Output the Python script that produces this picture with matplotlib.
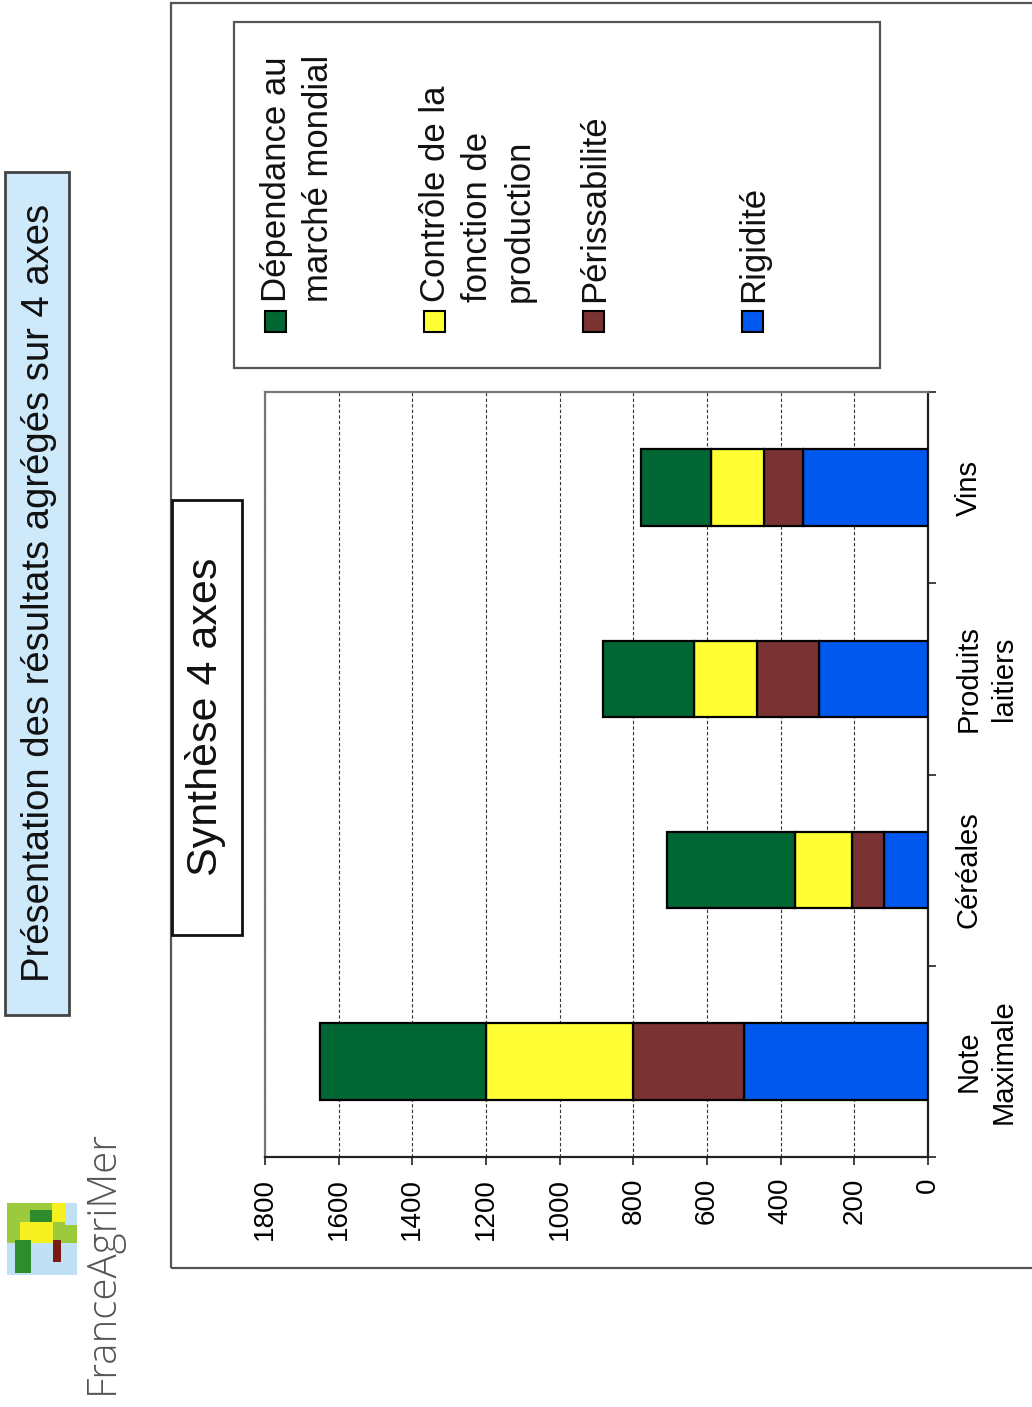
import matplotlib
matplotlib.use("Agg")
import matplotlib.pyplot as plt
from matplotlib.patches import Rectangle
from matplotlib.ticker import FixedLocator
import numpy as np

# ---------------- data ----------------
categories = ["Note\nMaximale", "Céréales", "Produits\nlaitiers", "Vins"]
series_names = ["Dépendance au\nmarché mondial", "Contrôle de la\nfonction de\nproduction",
                "Périssabilité", "Rigidité"]
rigidite = [500, 120, 296, 340]
perissabilite = [300, 85, 168, 105]
controle = [400, 156, 170, 144]
dependance = [450, 348, 248, 189]
value_ticks = [0, 200, 400, 600, 800, 1000, 1200, 1400, 1600, 1800]
title_text = "Présentation des résultats agrégés sur 4 axes"
chart_title = "Synthèse 4 axes"
brand = "FranceAgriMer"

colors = {"dep": "#006633", "ctrl": "#FFFF33", "per": "#7A3232", "rig": "#0058EE"}

W, H = 1032, 1407
fig = plt.figure(figsize=(W / 100, H / 100), dpi=100)
fig.patch.set_facecolor("white")

NARROW = ["Liberation Sans Narrow", "Liberation Sans", "DejaVu Sans"]
REG = ["Liberation Sans", "DejaVu Sans"]


def fx(x):
    return x / W


def fy(y):
    return 1 - y / H


def frect(x0, y0, x1, y1, **kw):
    r = Rectangle((fx(x0), fy(y1)), (x1 - x0) / W, (y1 - y0) / H,
                  transform=fig.transFigure, **kw)
    fig.patches.append(r)
    return r


# outer frame
frect(171, 3, 1045, 1268, fill=False, edgecolor="#555555", lw=1.6)

# title box
frect(5, 172, 69, 1015, facecolor="#CDE9FA", edgecolor="#444444", lw=2)
fig.text(fx(39), fy(593), title_text, rotation=90, ha="center", va="center",
         fontsize=27.5, family=NARROW, color="#111111")

# ---------------- axes ----------------
ax = fig.add_axes([fx(265), fy(1157), (928 - 265) / W, (1157 - 392) / H])
ypos = np.arange(len(categories))
bar_h = 0.4
left = np.zeros(len(categories))
for vals, key in [(rigidite, "rig"), (perissabilite, "per"), (controle, "ctrl"), (dependance, "dep")]:
    ax.barh(ypos, vals, height=bar_h, left=left, color=colors[key],
            edgecolor="black", linewidth=1.6, zorder=3)
    left = left + np.array(vals)

ax.set_xlim(1800, 0)
ax.set_ylim(-0.5, len(categories) - 0.5)
ax.set_xticks(value_ticks)
ax.set_xticklabels([str(v) for v in value_ticks], rotation=90, ha="center", va="top",
                   fontsize=20, family=REG)
ax.tick_params(axis="x", direction="out", length=6, width=1.2, pad=9, color="#222222")
ax.xaxis.grid(True, linestyle=(0, (3, 2)), color="#333333", linewidth=0.8, zorder=0)
ax.set_axisbelow(True)

ax.yaxis.tick_right()
ax.set_yticks(ypos)
ax.set_yticklabels(categories, rotation=90, ha="left", va="center", fontsize=21,
                   family=NARROW, multialignment="center", linespacing=1.35)
ax.yaxis.set_minor_locator(FixedLocator(np.arange(-0.5, len(categories), 1.0)))
ax.tick_params(axis="y", which="major", length=0, pad=19)
ax.tick_params(axis="y", which="minor", direction="out", length=6, width=1.2, color="#222222")

for s in ["left", "top"]:
    ax.spines[s].set_color("#777777")
    ax.spines[s].set_linewidth(1.6)
for s in ["right", "bottom"]:
    ax.spines[s].set_color("#222222")
    ax.spines[s].set_linewidth(1.6)

# chart title box
frect(172, 500, 242, 935, facecolor="white", edgecolor="#111111", lw=2, zorder=5)
fig.text(fx(206), fy(717), chart_title, rotation=90, ha="center", va="center",
         fontsize=31, family=NARROW, color="#111111", zorder=6)

# legend
frect(234, 22, 880, 368, fill=False, edgecolor="#555555", lw=1.6)
leg_colors = [colors["dep"], colors["ctrl"], colors["per"], colors["rig"]]
for i, (name, c) in enumerate(zip(series_names, leg_colors)):
    x0 = 265 + i * 159
    frect(x0, 311, x0 + 21, 332, facecolor=c, edgecolor="black", lw=1.5)
    fig.text(fx(x0 - 5), fy(302), name, rotation=90, ha="left", va="bottom",
             fontsize=25, family=REG, color="#111111", multialignment="left",
             linespacing=1.35)

# logo (decoration)
frect(7, 1203, 77, 1275, facecolor="#9BCB3C", edgecolor="none")
frect(7, 1243, 77, 1275, facecolor="#BFE0F5", edgecolor="none")
frect(65, 1203, 77, 1225, facecolor="#BFE0F5", edgecolor="none")
frect(20, 1222, 53, 1243, facecolor="#F5F020", edgecolor="none")
frect(52, 1203, 65, 1222, facecolor="#F5F020", edgecolor="none")
frect(30, 1210, 52, 1222, facecolor="#2E8B2E", edgecolor="none")
frect(15, 1240, 31, 1273, facecolor="#2E8B2E", edgecolor="none")
frect(53, 1240, 61, 1262, facecolor="#7A1A10", edgecolor="none")
fig.text(fx(102), fy(1262), brand, rotation=90, ha="center", va="center",
         fontsize=29, family=["Open Sans", "DejaVu Sans"], fontweight="light",
         color="#555555")

fig.savefig("out.png", dpi=100, facecolor="white")
